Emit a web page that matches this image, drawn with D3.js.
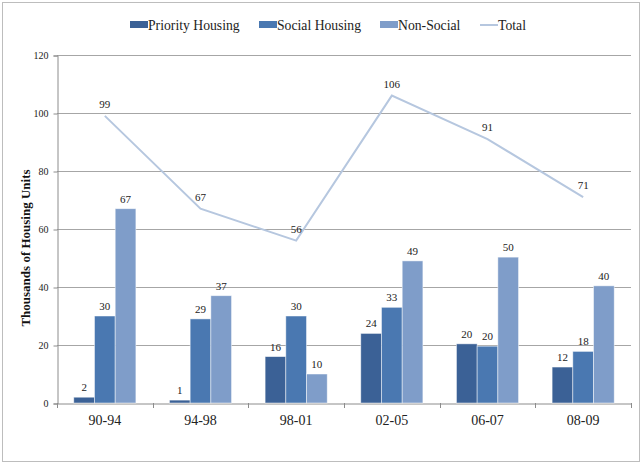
<!DOCTYPE html>
<html>
<head>
<meta charset="utf-8">
<script src="https://cdn.jsdelivr.net/npm/d3@7"></script>
<style>
body { margin: 0; background: #fff; }
</style>
</head>
<body>
<svg></svg>
<script>
var width = 641;
var height = 464;

var periods = ["90-94", "94-98", "98-01", "02-05", "06-07", "08-09"];
var priority = [2, 1, 16, 24, 20.4, 12.4];
var social = [30, 29, 30, 33, 19.6, 17.8];
var nonSocial = [67, 37, 10, 49, 50.3, 40.4];
var total = [99, 67, 56, 106, 91, 71];
var yTicks = [0, 20, 40, 60, 80, 100, 120];

var seriesNames = ["Priority Housing", "Social Housing", "Non-Social"];
var seriesColors = ["#3b6196", "#4a78b1", "#7f9dc9"];
var seriesValues = [priority, social, nonSocial];

var serif = "Liberation Serif";

var svg = d3.select("svg")
    .attr("width", width)
    .attr("height", height)
    .style("font-family", serif);

// outer chart border
svg.append("rect")
    .attr("x", 2.5).attr("y", 2.5)
    .attr("width", width - 4).attr("height", height - 5)
    .attr("fill", "none")
    .attr("stroke", "#bdbdbd");

var plotLeft = 57, plotRight = 631, plotTop = 55, plotBottom = 403;

var x0 = d3.scaleBand()
    .domain(periods)
    .range([plotLeft, plotRight])
    .padding(0);

var x1 = d3.scaleBand()
    .domain(seriesNames)
    .range([0, x0.bandwidth()])
    .paddingInner(0)
    .paddingOuter(0.81);

var y = d3.scaleLinear()
    .domain([0, 120])
    .range([plotBottom, plotTop]);

// gridlines
svg.append("g")
    .selectAll("line")
    .data(yTicks.filter(function(d) { return d > 0; }))
    .enter()
    .append("line")
    .attr("x1", plotLeft).attr("x2", plotRight)
    .attr("y1", function(d) { return y(d) + 0.5; })
    .attr("y2", function(d) { return y(d) + 0.5; })
    .attr("stroke", "#a6a6a6")
    .attr("stroke-width", 1);

// y axis
var yAxis = svg.append("g")
    .attr("transform", "translate(" + (plotLeft + 0.5) + ",0.5)")
    .call(d3.axisLeft(y).tickValues(yTicks).tickSize(4).tickPadding(5));
yAxis.select(".domain").attr("stroke", "#8c8c8c");
yAxis.selectAll(".tick line").attr("stroke", "#8c8c8c");
yAxis.selectAll("text")
    .attr("font-size", 10)
    .style("font-family", serif)
    .attr("fill", "#222");

// x axis
var xAxis = svg.append("g")
    .attr("transform", "translate(0," + (plotBottom + 0.5) + ")")
    .call(d3.axisBottom(x0).tickSize(0).tickPadding(12));
xAxis.select(".domain").attr("stroke", "#8c8c8c");
xAxis.selectAll("text")
    .attr("font-size", 14)
    .style("font-family", serif)
    .attr("fill", "#222");

// category boundary ticks
var bounds = periods.map(function(p) { return x0(p); }).concat([plotRight]);
svg.append("g")
    .selectAll("line")
    .data(bounds)
    .enter()
    .append("line")
    .attr("x1", function(d) { return Math.round(d) + 0.5; })
    .attr("x2", function(d) { return Math.round(d) + 0.5; })
    .attr("y1", plotBottom)
    .attr("y2", plotBottom + 5)
    .attr("stroke", "#8c8c8c");

// bars
seriesNames.forEach(function(name, si) {
    var g = svg.append("g");
    g.selectAll("rect")
        .data(seriesValues[si])
        .enter()
        .append("rect")
        .attr("x", function(d, i) { return x0(periods[i]) + x1(name); })
        .attr("y", function(d) { return y(d); })
        .attr("width", x1.bandwidth())
        .attr("height", function(d) { return y(0) - y(d); })
        .attr("fill", seriesColors[si])
        .attr("stroke", "#ffffff")
        .attr("stroke-opacity", 0.6)
        .attr("stroke-width", 0.8);
    g.selectAll("text")
        .data(seriesValues[si])
        .enter()
        .append("text")
        .attr("x", function(d, i) { return x0(periods[i]) + x1(name) + x1.bandwidth() / 2; })
        .attr("y", function(d) { return y(d) - 6; })
        .attr("text-anchor", "middle")
        .attr("font-size", 11)
        .attr("fill", "#222")
        .text(function(d) { return Math.round(d); });
});

// total line
var line = d3.line()
    .x(function(d, i) { return x0(periods[i]) + x0.bandwidth() / 2; })
    .y(function(d) { return y(d); });

svg.append("path")
    .datum(total)
    .attr("d", line)
    .attr("fill", "none")
    .attr("stroke", "#b6c7df")
    .attr("stroke-width", 2);

svg.append("g")
    .selectAll("text")
    .data(total)
    .enter()
    .append("text")
    .attr("x", function(d, i) { return x0(periods[i]) + x0.bandwidth() / 2; })
    .attr("y", function(d) { return y(d) - 8; })
    .attr("text-anchor", "middle")
    .attr("font-size", 11)
    .attr("fill", "#222")
    .text(function(d) { return d; });

// y axis title
svg.append("text")
    .attr("transform", "translate(30,248) rotate(-90)")
    .attr("text-anchor", "middle")
    .attr("font-size", 13)
    .attr("font-weight", "bold")
    .attr("fill", "#111")
    .text("Thousands of Housing Units");

// legend
var legendItems = [
    {name: "Priority Housing", color: seriesColors[0], type: "rect", x: 130},
    {name: "Social Housing", color: seriesColors[1], type: "rect", x: 259},
    {name: "Non-Social", color: seriesColors[2], type: "rect", x: 380},
    {name: "Total", color: "#b6c7df", type: "line", x: 480}
];
var ly = 25;
var legend = svg.selectAll("g.legend")
    .data(legendItems)
    .enter()
    .append("g")
    .attr("class", "legend");

legend.filter(function(d) { return d.type === "rect"; })
    .append("rect")
    .attr("x", function(d) { return d.x; })
    .attr("y", ly - 4)
    .attr("width", 18)
    .attr("height", 7)
    .attr("fill", function(d) { return d.color; });

legend.filter(function(d) { return d.type === "line"; })
    .append("line")
    .attr("x1", function(d) { return d.x; })
    .attr("x2", function(d) { return d.x + 18; })
    .attr("y1", ly).attr("y2", ly)
    .attr("stroke", function(d) { return d.color; })
    .attr("stroke-width", 2);

legend.append("text")
    .attr("x", function(d) { return d.x + 18; })
    .attr("y", ly + 4.5)
    .attr("font-size", 13.7)
    .attr("fill", "#222")
    .text(function(d) { return d.name; });
</script>
</body>
</html>
